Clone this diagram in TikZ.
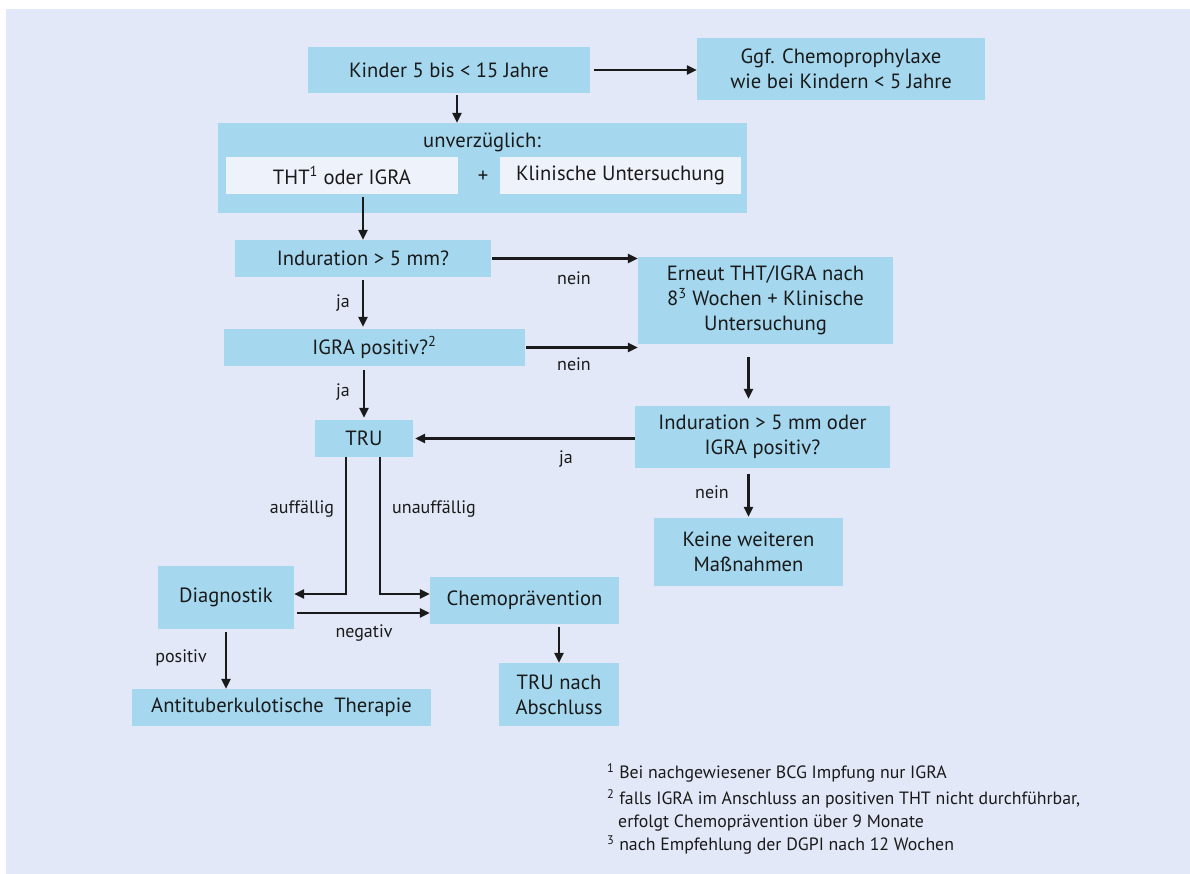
\documentclass[tikz,border=0pt]{standalone}
\usepackage{fontspec}
\setmainfont{PT Sans}
\usetikzlibrary{arrows.meta}
\definecolor{panel}{HTML}{E2E8F7}
\definecolor{boxblue}{HTML}{A5D8EF}
\definecolor{inner}{HTML}{EEF2FB}
\definecolor{ink}{HTML}{1A1A1A}

\begin{document}
\begin{tikzpicture}[
    x=1pt, y=-1pt,
    box/.style={
      fill=boxblue,
      inner sep=0pt,
      align=center,
      text=ink,
      font=\fontsize{20.6}{25.3}\selectfont,
    },
    whitebox/.style={box, fill=inner},
    lab/.style={inner sep=0pt, text=ink, font=\fontsize{18}{21}\selectfont},
    fn/.style={lab, anchor=west, font=\fontsize{17.8}{21}\selectfont},
    arr/.style={->, draw=ink, line width=2.5pt},
    >={Triangle[length=10pt,width=9pt]},
  ]
  \useasboundingbox (0,0) rectangle (1190,874);
  \fill[panel] (6,9) rectangle (1190,874);

  \node[box, minimum width=282pt, minimum height=46pt] (kinder) at (449,70) {Kinder 5 bis < 15 Jahre};
  \node[box, minimum width=288pt, minimum height=62pt] (ggf) at (841,69) {Ggf. Chemoprophylaxe\\wie bei Kindern < 5 Jahre};
  \node[box, minimum width=529pt, minimum height=90pt] (sofort) at (482.5,168) {};
  \node[lab, font=\fontsize{20.6}{25}\selectfont] (sofortkopf) at (482,142) {unverzüglich:};
  \node[whitebox, minimum width=232pt, minimum height=37pt] (tht) at (342,175.5) {THT\textsuperscript{1} oder IGRA};
  \node[lab, font=\fontsize{20.6}{25}\selectfont] (plus) at (483,177) {+};
  \node[whitebox, minimum width=241pt, minimum height=37pt] (klinisch) at (620.5,175.5) {Klinische Untersuchung};
  \node[box, minimum width=256pt, minimum height=37pt] (ind1) at (363,258.5) {Induration > 5 mm?};
  \node[box, minimum width=301pt, minimum height=37pt] (igra) at (374.5,347.5) {IGRA positiv?\textsuperscript{2}};
  \node[box, minimum width=255pt, minimum height=87pt] (erneut) at (765.5,300.5) {Erneut THT/IGRA nach\\8\textsuperscript{3} Wochen + Klinische\\Untersuchung};
  \node[box, minimum width=255pt, minimum height=62pt] (ind2) at (762.5,437) {Induration > 5 mm oder\\IGRA positiv?};
  \node[box, minimum width=189pt, minimum height=68pt] (keine) at (748.5,552) {Keine weiteren\\Maßnahmen};
  \node[box, minimum width=98pt, minimum height=37pt] (tru) at (364,438.5) {TRU};
  \node[box, minimum width=136pt, minimum height=63pt] (diag) at (226,597.5) {Diagnostik};
  \node[box, minimum width=189pt, minimum height=47pt] (chemo) at (524.5,600.5) {Chemoprävention};
  \node[box, minimum width=299pt, minimum height=37pt] (anti) at (281.5,707.5) {Antituberkulotische\enspace Therapie};
  \node[box, minimum width=120pt, minimum height=63pt] (trunach) at (559,694.5) {TRU nach\\Abschluss};

  \draw[arr, shorten <=4pt] (kinder.east) -- (ggf.west |- kinder.east);
  \draw[arr, shorten <=2pt] ([xshift=8pt]kinder.south) -- ([xshift=-25.5pt]sofort.north);
  \draw[arr, shorten <=3pt] (tht.south -| ind1.north) -- (ind1.north);
  \draw[arr, shorten <=3pt, shorten >=2pt] (ind1.south) -- (ind1.south |- igra.north);
  \draw[arr, shorten <=1pt] (ind1.east) -- (ind1.east -| erneut.west);
  \draw[arr, shorten <=1pt] (igra.east) -- (igra.east -| erneut.west);
  \draw[arr, shorten <=4pt, shorten >=2pt] (igra.south -| tru.north) -- (tru.north);
  \draw[arr, shorten <=13pt, shorten >=7pt] (erneut.south -| keine.north) -- (ind2.north -| keine.north);
  \draw[arr, shorten >=2pt] (ind2.west |- tru.east) -- (tru.east);
  \draw[arr, shorten <=6pt, shorten >=1pt] (ind2.south -| keine.north) -- (keine.north);
  \draw[arr] ([xshift=-18pt]tru.south) |- ([yshift=3.5pt]diag.east);
  \draw[arr] ([xshift=16pt]tru.south) |- ([yshift=6.5pt]chemo.west);
  \draw[arr] ([xshift=3pt,yshift=-15.5pt]diag.east) -- ([yshift=-12.5pt]chemo.west);
  \draw[arr, shorten <=3pt] (diag.south) -- (diag.south |- anti.north);
  \draw[arr, shorten <=3pt] (chemo.south -| trunach.north) -- (trunach.north);

  \node[lab] (ja1) at (343,303) {ja};
  \node[lab] (nein1) at (574,278) {nein};
  \node[lab] (nein2) at (574,364) {nein};
  \node[lab] (ja2) at (343,392) {ja};
  \node[lab] (ja3) at (566,459) {ja};
  \node[lab] (nein3) at (712,492) {nein};
  \node[lab] (auff) at (302,509) {auffällig};
  \node[lab] (unauff) at (434,509) {unauffällig};
  \node[lab] (neg) at (364,633) {negativ};
  \node[lab] (pos) at (181,658) {positiv};

  \node[fn] (fn1) at (607,773) {\textsuperscript{1} Bei nachgewiesener BCG Impfung nur IGRA};
  \node[fn] (fn2) at (607,799) {\textsuperscript{2} falls IGRA im Anschluss an positiven THT nicht durchführbar,};
  \node[fn] (fn2b) at (618,823) {erfolgt Chemoprävention über 9 Monate};
  \node[fn] (fn3) at (607,845) {\textsuperscript{3} nach Empfehlung der DGPI nach 12 Wochen};
\end{tikzpicture}
\end{document}
